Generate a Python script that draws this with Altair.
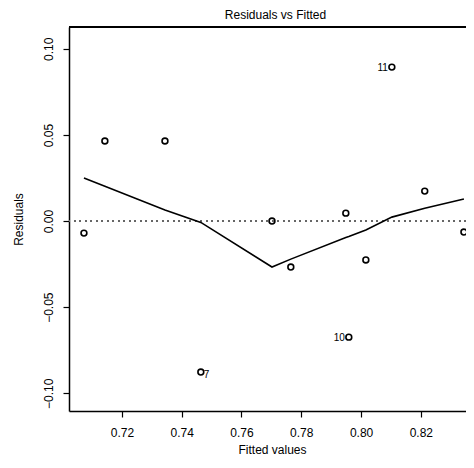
import altair as alt
import pandas as pd

# Values
fitted = [0.7073, 0.7143, 0.7344, 0.7464, 0.7702, 0.7765, 0.7949, 0.7959, 0.8016, 0.8103, 0.8213, 0.8344]
resid = [-0.0070, 0.0465, 0.0465, -0.0877, 0.0000, -0.0267, 0.0046, -0.0674, -0.0226, 0.0894, 0.0174, -0.0064]
smooth = [0.0250, 0.0202, 0.0064, -0.0008, -0.0267, -0.0221, -0.0095, -0.0089, -0.0052, 0.0023, 0.0075, 0.0128]
labels = ["", "", "", "7", "", "", "", "10", "", "11", "", ""]
label_side = ["", "", "", "right", "", "", "", "left", "", "left", "", ""]

x_ticks = [0.72, 0.74, 0.76, 0.78, 0.80, 0.82]
y_ticks = [-0.10, -0.05, 0.00, 0.05, 0.10]
x_domain = [0.7023, 0.8351]
y_domain = [-0.1103, 0.1127]

df = pd.DataFrame({"fitted": fitted, "resid": resid, "smooth": smooth,
                   "label": labels, "side": label_side})

FONT = "Liberation Sans"

xs = alt.Scale(domain=x_domain, nice=False, zero=False)
ys = alt.Scale(domain=y_domain, nice=False, zero=False)

x_axis = alt.Axis(values=x_ticks, format=".2f", title="Fitted values", grid=False,
                  tickSize=6, labelPadding=10, labelFontSize=12, titleFontSize=12,
                  titleFontWeight="normal", titleY=42, titleBaseline="alphabetic",
                  titleX=203, titleAlign="center")
y_axis = alt.Axis(values=y_ticks, format=".2f", title="Residuals", grid=False,
                  tickSize=6, labelAngle=-90, labelAlign="center", labelBaseline="bottom",
                  labelPadding=8, labelFontSize=12, titleFontSize=12,
                  titleFontWeight="normal", titleAngle=-90, titleX=-51, titleY=192,
                  titleAlign="center", titleBaseline="middle")

base = alt.Chart(df)

points = base.mark_point(shape="circle", filled=False, color="black", size=34,
                         strokeWidth=1.6, opacity=1).encode(
    x=alt.X("fitted:Q", scale=xs, axis=x_axis),
    y=alt.Y("resid:Q", scale=ys, axis=y_axis),
)

zero_line = base.mark_rule(color="#666666", strokeDash=[1.5, 4], strokeWidth=1.2).encode(
    y=alt.datum(0, scale=ys)
)

smooth_line = base.mark_line(color="black", strokeWidth=1.6).encode(
    x=alt.X("fitted:Q", scale=xs),
    y=alt.Y("smooth:Q", scale=ys),
)

lab_left = base.transform_filter(alt.datum.side == "left").mark_text(
    align="right", baseline="middle", dx=-4, dy=1, fontSize=10, font=FONT, color="black"
).encode(x=alt.X("fitted:Q", scale=xs), y=alt.Y("resid:Q", scale=ys), text="label:N")

lab_right = base.transform_filter(alt.datum.side == "right").mark_text(
    align="left", baseline="middle", dx=3, dy=3, fontSize=10, font=FONT, color="black"
).encode(x=alt.X("fitted:Q", scale=xs), y=alt.Y("resid:Q", scale=ys), text="label:N")

top_border = base.mark_rule(color="black", strokeWidth=1.5).encode(
    x=alt.value(0), x2=alt.value(397), y=alt.value(0)
)

chart = alt.layer(points, zero_line, smooth_line, lab_left, lab_right, top_border).properties(
    width=397, height=384,
    autosize=alt.AutoSizeParams(type="none"),
    padding={"left": 61, "top": 19, "right": 0, "bottom": 45},
    title=alt.Title("Residuals vs Fitted", fontSize=12, font=FONT, fontWeight="normal",
                    anchor="middle", offset=4, dx=8, color="black"),
    background="white",
).configure_view(stroke=None).configure_axis(
    domainColor="black", domainWidth=1.5, tickColor="black", tickWidth=1.2,
    labelColor="black", titleColor="black", labelFont=FONT, titleFont=FONT,
)

chart.save("out.html", embed_options={"renderer": "svg", "actions": False})
